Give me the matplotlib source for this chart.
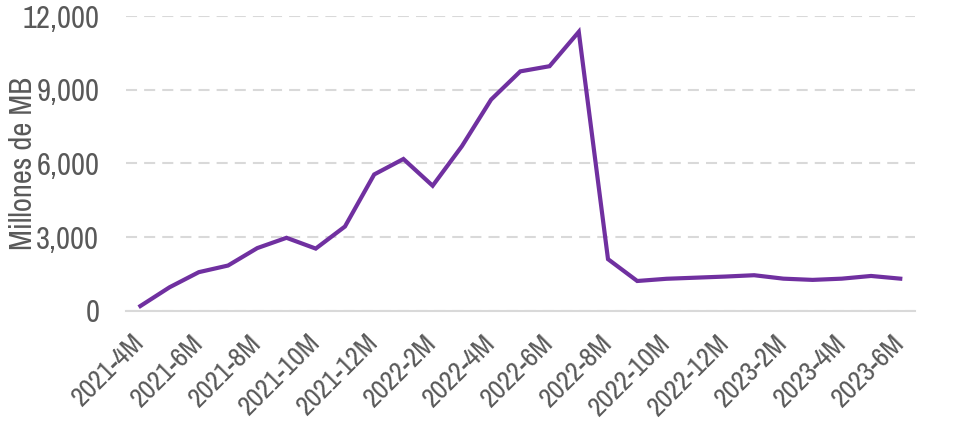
import matplotlib
matplotlib.use("Agg")
import matplotlib.pyplot as plt
from matplotlib import font_manager

# buscar una fuente estrecha (tipo Arial Narrow) si existe
narrow = sorted({f.name for f in font_manager.fontManager.ttflist
                 if 'Narrow' in f.name or 'Condensed' in f.name})
if narrow:
    familia = narrow[0]
    esc = 1.0
else:
    familia = 'Liberation Sans'
    esc = 0.82
plt.rcParams['font.family'] = [familia, 'DejaVu Sans']

# periodos mensuales 2021-4M .. 2023-6M
meses = []
for anio, m0, m1 in [(2021, 4, 12), (2022, 1, 12), (2023, 1, 6)]:
    for m in range(m0, m1 + 1):
        meses.append(f"{anio}-{m}M")

# millones de MB
trafico = [190, 955, 1570, 1840, 2550, 2970, 2530, 3430, 5550, 6180,
           5090, 6700, 8600, 9750, 9960, 11360, 2100, 1210, 1300, 1345,
           1390, 1445, 1305, 1255, 1305, 1415, 1305]

gris = '#595959'
morado = '#7030A0'

fig = plt.figure(figsize=(9.6, 4.36), dpi=100)
ax = fig.add_axes([0.131, 0.2874, 0.822, 0.6756])

x = list(range(len(meses)))
ax.plot(x, trafico, color=morado, linewidth=3, solid_joinstyle='miter', zorder=3)

ax.set_xlim(-0.5, len(meses) - 0.5)
ax.set_ylim(0, 12000)
ax.set_yticks([0, 3000, 6000, 9000, 12000])
ax.set_yticklabels([f"{v:,}" for v in [0, 3000, 6000, 9000, 12000]])
ax.yaxis.grid(True, color='#d9d9d9', linewidth=1.5, linestyle=(0, (5.3, 3.4)))
ax.set_axisbelow(True)

ax.set_xticks(x[::2])
ax.set_xticklabels(meses[::2], rotation=45, ha='right', va='center',
                   rotation_mode='anchor')

for s in ['top', 'right', 'left']:
    ax.spines[s].set_visible(False)
ax.spines['bottom'].set_color('#d9d9d9')
ax.spines['bottom'].set_linewidth(1.5)

ax.tick_params(axis='y', length=0, pad=19, labelsize=22 * esc, labelcolor=gris)
ax.tick_params(axis='x', length=0, pad=20, labelsize=20 * esc, labelcolor=gris)

ax.set_ylabel('Millones de MB', fontsize=22 * esc, color=gris)
ax.yaxis.set_label_coords(-0.112, 0.5)

fig.savefig('out.png', dpi=100)
